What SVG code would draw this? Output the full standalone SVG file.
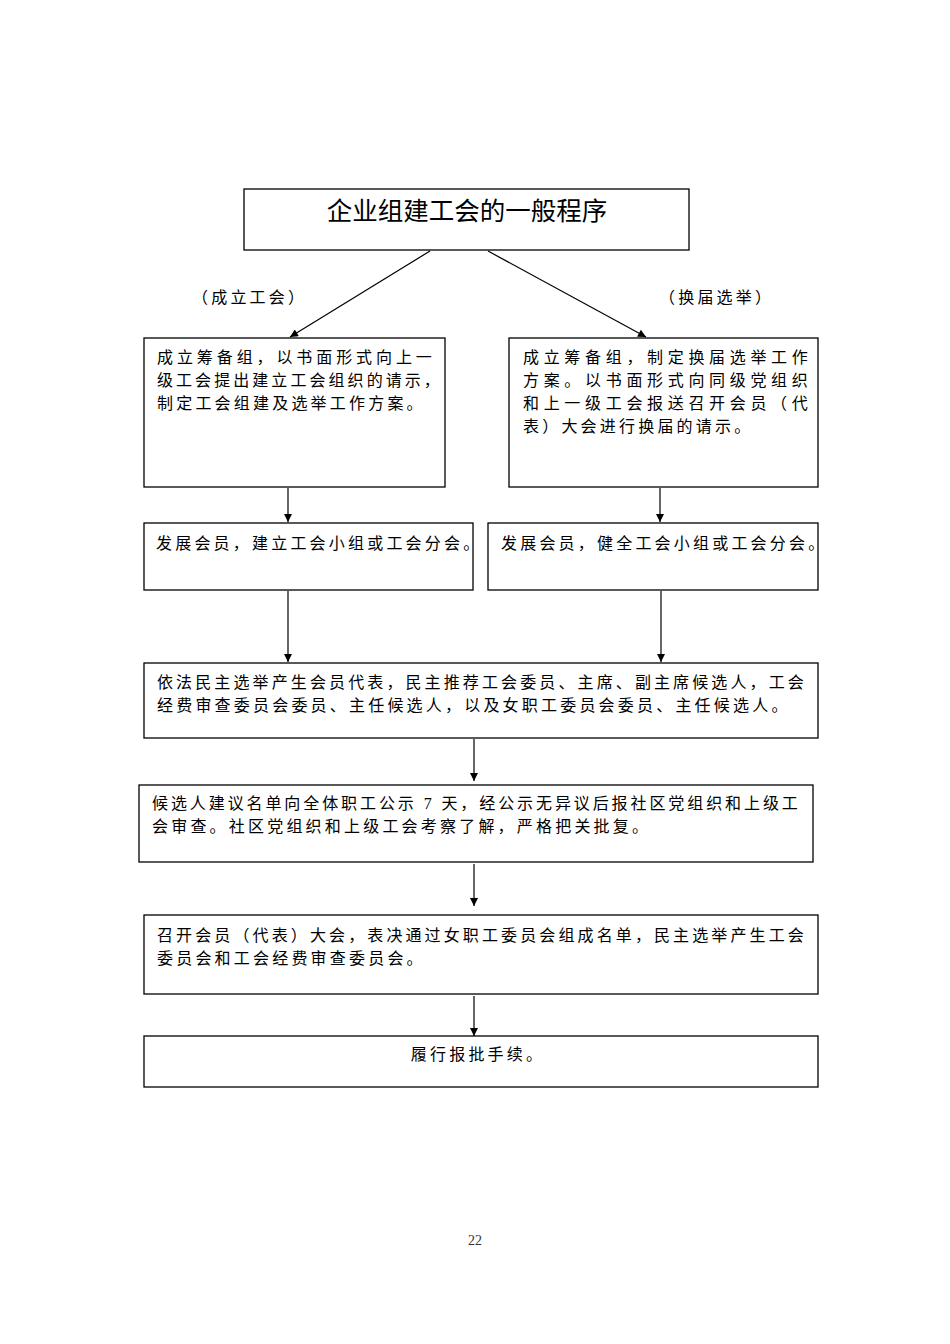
<svg xmlns="http://www.w3.org/2000/svg" width="950" height="1344" viewBox="0 0 950 1344">
<style>
.box{fill:#fff;stroke:#000;stroke-width:1.3}
.t{font-family:"Liberation Serif","Noto Sans CJK SC",serif;font-size:16px;fill:#000;letter-spacing:3.2px}
.title{font-family:"Noto Sans CJK SC",sans-serif;font-size:25.5px;fill:#000}
.conn line{stroke:#000;stroke-width:1.2}
.pg{font-family:"Liberation Serif",serif;font-size:14px;fill:#333}
</style>
<defs>
<marker id="ah" viewBox="0 0 10 10" refX="10" refY="5" markerWidth="9" markerHeight="8" markerUnits="userSpaceOnUse" orient="auto">
<path d="M0,0 L10,5 L0,10 z" fill="#000"/>
</marker>
</defs>
<g id="title">
<rect class="box" x="244" y="189" width="445" height="61"/>
<text class="title" x="467" y="220" text-anchor="middle">企业组建工会的一般程序</text>
</g>
<g id="label-left"><text class="t" x="192" y="303" letter-spacing="2">（成立工会）</text></g>
<g id="label-right"><text class="t" x="659" y="303" letter-spacing="2">（换届选举）</text></g>
<g id="box-l1">
<rect class="box" x="144" y="338" width="301" height="149"/>
<text class="t" x="157" y="363" textLength="278" lengthAdjust="spacing">成立筹备组，以书面形式向上一</text>
<text class="t" x="157" y="386" textLength="286" lengthAdjust="spacing">级工会提出建立工会组织的请示，</text>
<text class="t" x="157" y="409">制定工会组建及选举工作方案。</text>
</g>
<g id="box-r1">
<rect class="box" x="509" y="338" width="309" height="149"/>
<text class="t" x="523" y="363" textLength="288" lengthAdjust="spacing">成立筹备组，制定换届选举工作</text>
<text class="t" x="523" y="386" textLength="288" lengthAdjust="spacing">方案。以书面形式向同级党组织</text>
<text class="t" x="523" y="409" textLength="288" lengthAdjust="spacing">和上一级工会报送召开会员（代</text>
<text class="t" x="523" y="432">表）大会进行换届的请示。</text>
</g>
<g id="box-l2">
<rect class="box" x="144" y="523" width="329" height="67"/>
<text class="t" x="156" y="549">发展会员，建立工会小组或工会分会。</text>
</g>
<g id="box-r2">
<rect class="box" x="488" y="523" width="330" height="67"/>
<text class="t" x="501" y="549">发展会员，健全工会小组或工会分会。</text>
</g>
<g id="box-3">
<rect class="box" x="144" y="663" width="674" height="75"/>
<text class="t" x="157" y="688" textLength="650" lengthAdjust="spacing">依法民主选举产生会员代表，民主推荐工会委员、主席、副主席候选人，工会</text>
<text class="t" x="157" y="711">经费审查委员会委员、主任候选人，以及女职工委员会委员、主任候选人。</text>
</g>
<g id="box-4">
<rect class="box" x="139" y="785" width="674" height="77"/>
<text class="t" x="152" y="809" textLength="649" lengthAdjust="spacing">候选人建议名单向全体职工公示 7 天，经公示无异议后报社区党组织和上级工</text>
<text class="t" x="152" y="832">会审查。社区党组织和上级工会考察了解，严格把关批复。</text>
</g>
<g id="box-5">
<rect class="box" x="144" y="915" width="674" height="79"/>
<text class="t" x="157" y="941" textLength="650" lengthAdjust="spacing">召开会员（代表）大会，表决通过女职工委员会组成名单，民主选举产生工会</text>
<text class="t" x="157" y="964">委员会和工会经费审查委员会。</text>
</g>
<g id="box-6">
<rect class="box" x="144" y="1036" width="674" height="51"/>
<text class="t" x="478" y="1060" text-anchor="middle">履行报批手续。</text>
</g>
<g id="connectors" class="conn">
<line x1="430" y1="251" x2="290" y2="337" marker-end="url(#ah)"/>
<line x1="488" y1="251" x2="646" y2="337" marker-end="url(#ah)"/>
<line x1="288" y1="488" x2="288" y2="522" marker-end="url(#ah)"/>
<line x1="660" y1="488" x2="660" y2="522" marker-end="url(#ah)"/>
<line x1="288" y1="591" x2="288" y2="662" marker-end="url(#ah)"/>
<line x1="661" y1="591" x2="661" y2="662" marker-end="url(#ah)"/>
<line x1="474" y1="739" x2="474" y2="781" marker-end="url(#ah)"/>
<line x1="474" y1="864" x2="474" y2="906" marker-end="url(#ah)"/>
<line x1="474" y1="996" x2="474" y2="1036" marker-end="url(#ah)"/>
</g>
<text class="pg" x="475" y="1245" text-anchor="middle">22</text>
</svg>
